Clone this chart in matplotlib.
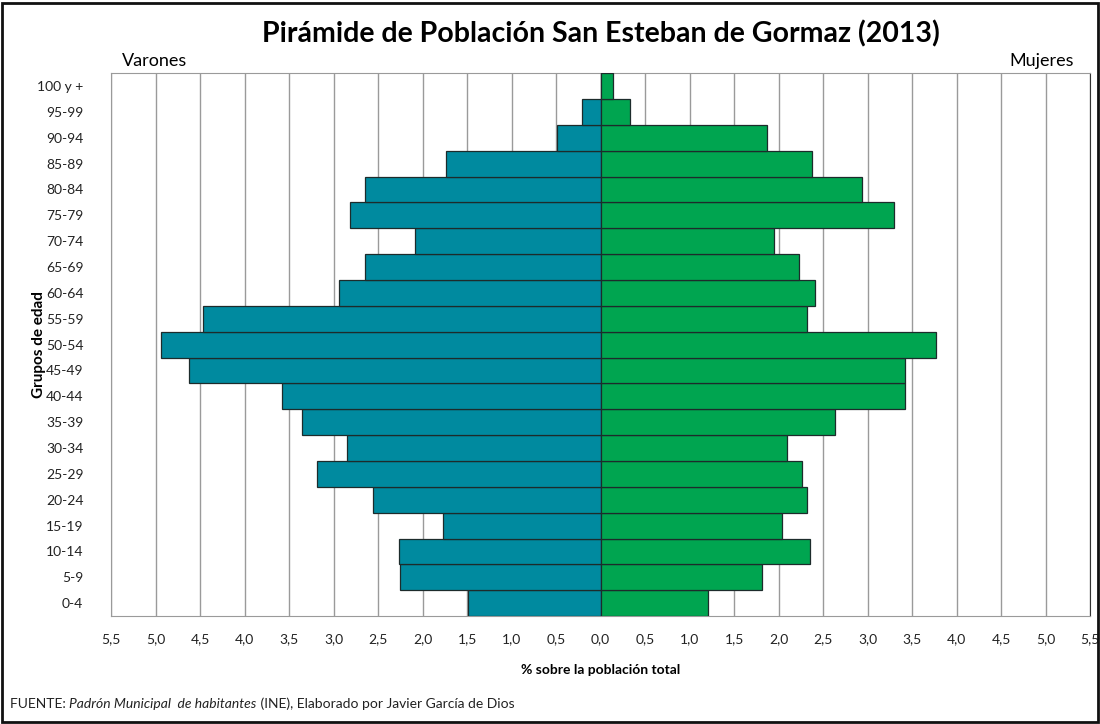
import matplotlib
matplotlib.use("Agg")
import matplotlib.pyplot as plt
from matplotlib.patches import Rectangle
from matplotlib.ticker import FixedLocator

# data (percent of total population), bottom row first
grupos = ["0-4", "5-9", "10-14", "15-19", "20-24", "25-29", "30-34", "35-39",
          "40-44", "45-49", "50-54", "55-59", "60-64", "65-69", "70-74",
          "75-79", "80-84", "85-89", "90-94", "95-99", "100 y +"]
varones = [1.49, 2.25, 2.27, 1.77, 2.56, 3.19, 2.85, 3.36, 3.58, 4.63, 4.94,
           4.47, 2.94, 2.65, 2.08, 2.82, 2.65, 1.74, 0.49, 0.21, 0.0]
mujeres = [1.21, 1.81, 2.35, 2.04, 2.32, 2.26, 2.09, 2.63, 3.42, 3.42, 3.77,
           2.32, 2.41, 2.23, 1.95, 3.30, 2.94, 2.38, 1.87, 0.33, 0.135]
xticks = [-5.5, -5.0, -4.5, -4.0, -3.5, -3.0, -2.5, -2.0, -1.5, -1.0, -0.5,
          0.0, 0.5, 1.0, 1.5, 2.0, 2.5, 3.0, 3.5, 4.0, 4.5, 5.0, 5.5]

C_VAR = "#008a9f"
C_MUJ = "#00a550"
FONT = ["Lato", "DejaVu Sans"]
plt.rcParams["font.family"] = FONT

fig = plt.figure(figsize=(11.0, 7.24), dpi=100)
ax = fig.add_axes([0.101, 0.149, 0.890, 0.750])

y = range(len(grupos))
ax.barh(y, [-v for v in varones], height=1.0, color=C_VAR,
        edgecolor="#1d2b2b", linewidth=0.9, zorder=3)
ax.barh(y, mujeres, height=1.0, color=C_MUJ,
        edgecolor="#1d2b2b", linewidth=0.9, zorder=3)

ax.set_xlim(-5.5, 5.5)
ax.set_ylim(-0.5, len(grupos) - 0.5)
ax.xaxis.set_major_locator(FixedLocator(xticks))
ax.set_xticklabels([f"{abs(t):.1f}".replace(".", ",") for t in xticks],
                   fontsize=10, color="#222222")
ax.set_yticks(list(y))
ax.set_yticklabels(grupos, fontsize=10, color="#222222")
ax.tick_params(length=0)
ax.tick_params(axis="x", pad=12)
ax.tick_params(axis="y", pad=20)
ax.grid(axis="x", color="#9a9a9a", lw=1.0, zorder=0)
for s in ("left", "bottom", "top"):
    ax.spines[s].set_color("#9a9a9a")
ax.spines["right"].set_color("#333333")

ax.set_xlabel("% sobre la población total", fontsize=10, fontweight="bold",
              labelpad=14)
ax.set_ylabel("Grupos de edad", fontsize=11, fontweight="bold")
ax.yaxis.set_label_coords(-0.067, 0.5)

fig.text(0.546, 0.953, "Pirámide de Población San Esteban de Gormaz (2013)",
         ha="center", va="center", fontsize=20.5, fontweight="bold")
fig.text(0.111, 0.916, "Varones", ha="left", va="center", fontsize=13)
fig.text(0.976, 0.916, "Mujeres", ha="right", va="center", fontsize=13)

# footer with an italic piece
r = fig.canvas.get_renderer()
x0 = 10
pieces = [("FUENTE: ", "normal"), ("Padrón Municipal  de habitantes", "italic"),
          (" (INE), Elaborado por Javier García de Dios", "normal")]
for txt, st in pieces:
    t = fig.text(x0 / 1100, 1 - 704 / 724, txt, ha="left", va="center",
                 fontsize=10, style=st, color="#222222")
    x0 = t.get_window_extent(r).x1

fig.patches.append(Rectangle((0.002, 0.003), 0.996, 0.993, fill=False,
                             edgecolor="#111111", lw=2.0,
                             transform=fig.transFigure))

fig.savefig("out.png", dpi=100)
